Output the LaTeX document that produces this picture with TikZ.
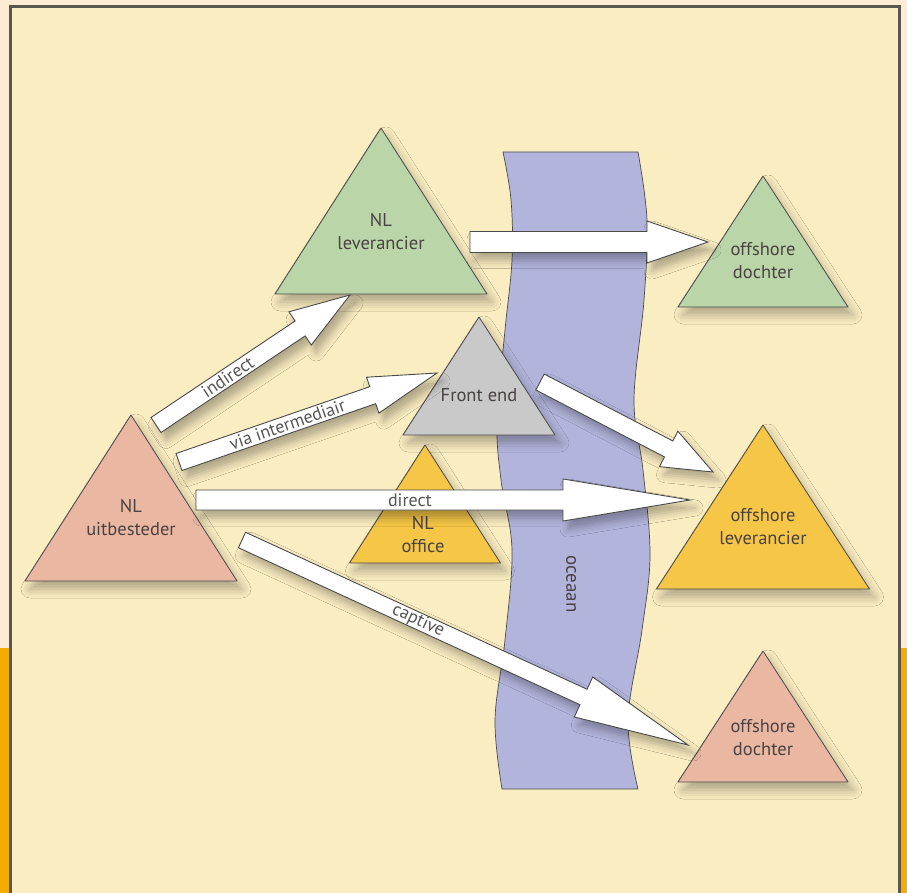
\documentclass[tikz,border=0pt]{standalone}
\usepackage{fontspec}
\setmainfont{PT Sans}
\usetikzlibrary{calc,shadows.blur}
\definecolor{outerbg}{HTML}{FDEBD3}
\definecolor{stripe}{HTML}{F5AC00}
\definecolor{panel}{HTML}{FAEDC1}
\definecolor{frame}{HTML}{5A5650}
\definecolor{linegray}{HTML}{4A4A4A}
\definecolor{textgray}{HTML}{4A4242}
\definecolor{labelgray}{HTML}{555555}
\definecolor{tgreen}{HTML}{BAD6A8}
\definecolor{tgray}{HTML}{C9C9C9}
\definecolor{tyellow}{HTML}{F6C646}
\definecolor{tpink}{HTML}{EAB8A2}
\definecolor{oceanblue}{HTML}{B3B4DC}
\newcommand\tri[6]{%
  \draw[tri, fill=#6] (#2,#3) coordinate (#1-apex) -- ++(#4,#5) coordinate (#1-r)
    -- ++(-2*#4,0) coordinate (#1-l) -- cycle;}
\newcommand\blockarr[5]{%
  \coordinate (#1#2hb) at ($(#2)!#3!(#1)$);
  \draw[blockarrow] ($(#1)!#4!90:(#2)$) -- ($(#1#2hb)!#4!90:(#2)$)
    -- ($(#1#2hb)!#5!90:(#2)$) -- (#2) -- ($(#1#2hb)!#5!-90:(#2)$)
    -- ($(#1#2hb)!#4!-90:(#2)$) -- ($(#1)!#4!-90:(#2)$) -- cycle;}
\begin{document}
\begin{tikzpicture}[x=1pt,y=-1pt,
  tri/.style={draw=linegray, line width=0.8pt, line join=round,
    blur shadow={shadow xshift=5pt, shadow yshift=-8pt, shadow blur radius=9pt, shadow opacity=30}},
  blockarrow/.style={fill=white, draw=linegray, line width=0.9pt, line join=miter,
    blur shadow={shadow xshift=5pt, shadow yshift=-8pt, shadow blur radius=8pt, shadow opacity=30}},
  tlabel/.style={text=textgray, font=\fontsize{18.5}{23}\selectfont, align=center, inner sep=0pt},
  alabel/.style={text=labelgray, font=\fontsize{18}{20}\selectfont, inner sep=0pt},
  ocean/.style={fill=oceanblue, draw=linegray, line width=0.7pt}]
\useasboundingbox (0,0) rectangle (907,893);
\fill[outerbg] (0,0) rectangle (907,893);
\fill[stripe] (0,648) rectangle (907,893);
\draw[frame, line width=3pt, fill=panel] (10,7) rectangle (899,905);
% ocean
\draw[ocean] plot[smooth, tension=0.6] coordinates {(503,152) (511,200) (512,260) (505,330) (497,420) (501,480) (512,550) (505,640) (495,720) (502,789)}
  -- plot[smooth, tension=0.6] coordinates {(638,789) (628,720) (642,630) (650,555) (643,470) (634,400) (644,300) (647,220) (638,152)} -- cycle;
\node[alabel, rotate=-90, text=textgray, font=\fontsize{19}{20}\selectfont] (oceaan) at (571,584) {oceaan};
% triangles
\tri{nllev}{381}{128}{106}{166}{tgreen}
\tri{offdg}{763}{176}{85}{131}{tgreen}
\tri{front}{479}{317}{76}{118}{tgray}
\tri{nloff}{425}{445}{75.5}{118}{tyellow}
\tri{offlev}{763}{425}{106.5}{164}{tyellow}
\tri{nluit}{131}{415}{106}{166}{tpink}
\tri{offdp}{763}{651}{85}{131}{tpink}
\node[tlabel] (tnllev) at (381,232) {NL\\leverancier};
\node[tlabel] (toffdg) at (763,261) {offshore\\dochter};
\node[tlabel] (tfront) at (479,395) {Front end};
\node[tlabel] (tnloff) at (423,535) {NL\\office};
\node[tlabel] (toffl) at (763,527) {offshore\\leverancier};
\node[tlabel] (tnluit) at (131,518) {NL\\uitbesteder};
\node[tlabel] (toffdp) at (763,738) {offshore\\dochter};
% arrow end points
\coordinate (indT) at (156,425);  \coordinate (indH) at (350,295);
\coordinate (viaT) at (179,462);  \coordinate (viaH) at (437,373);
\coordinate (dirT) at (196,500);  \coordinate (dirH) at (690,500);
\coordinate (capT) at (242,540);  \coordinate (capH) at (688,745);
\coordinate (feT) at (540,382);   \coordinate (feH) at (713,472);
\coordinate (levT) at (470,242);  \coordinate (levH) at (708,242);
% arrows
\blockarr{levT}{levH}{61pt}{10.5pt}{21pt}
\blockarr{indT}{indH}{60pt}{9pt}{20pt}
\blockarr{viaT}{viaH}{68pt}{9pt}{19pt}
\blockarr{feT}{feH}{50pt}{9pt}{20pt}
\blockarr{dirT}{dirH}{127pt}{10pt}{21pt}
\blockarr{capT}{capH}{115pt}{8.5pt}{22pt}
% arrow labels
\path (indT) -- node[alabel, sloped, pos=0.37] (lind) {indirect} (indH);
\path (viaT) -- node[alabel, sloped, pos=0.42] (lvia) {via intermediair} (viaH);
\path (dirT) -- node[alabel, sloped, pos=0.433] (ldir) {direct} (dirH);
\path (capT) -- node[alabel, sloped, pos=0.395] (lcap) {captive} (capH);
\end{tikzpicture}
\end{document}
